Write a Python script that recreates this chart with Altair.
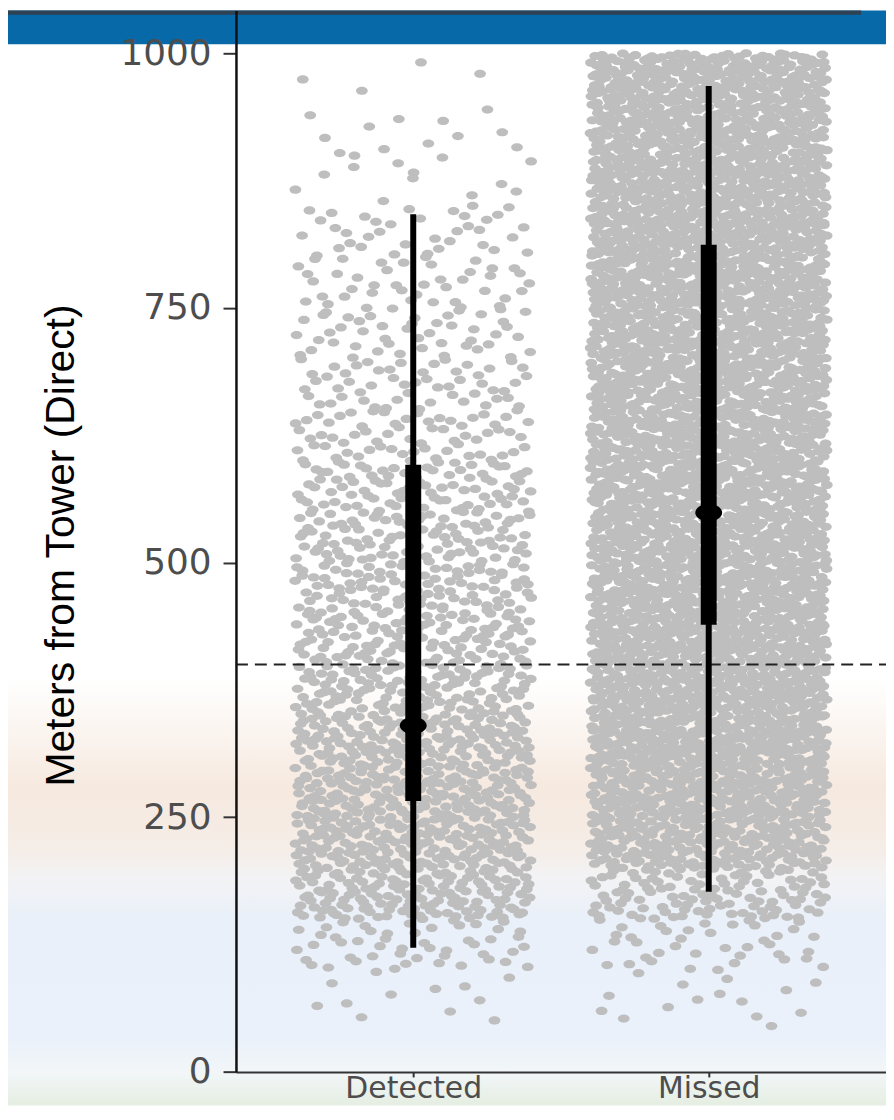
import altair as alt
import pandas as pd

# ---------------- data ----------------
categories = ["Detected", "Missed"]
category_index = [1, 2]

# 50-m bins of "Meters from Tower (Direct)" and the estimated number of
# jittered observations seen in each bin
bin_starts = [0, 50, 100, 150, 200, 250, 300, 350, 400, 450,
              500, 550, 600, 650, 700, 750, 800, 850, 900, 950]
bin_width = 50
detected_counts = [0, 12, 50, 150, 175, 175, 160, 130, 115, 105,
                   100, 90, 65, 55, 48, 42, 36, 14, 12, 4]
missed_counts = [1, 14, 40, 110, 220, 260, 270, 270, 270, 270,
                 270, 270, 270, 270, 270, 270, 270, 270, 270, 270]

# summary intervals (thin = outer interval, thick = inner interval, dot = median)
interval_lo = [122, 177]
interval_q1 = [266, 439]
interval_med = [340, 549]
interval_q3 = [596, 812]
interval_hi = [842, 968]

threshold = [400]
y_ticks = [0, 250, 500, 750, 1000]


# ---------------- tables ----------------
def halton(i, base):
    f, r = 1.0, 0.0
    while i > 0:
        f /= base
        r += f * (i % base)
        i //= base
    return r


# points spread inside each bin with a deterministic low-discrepancy layout (jitter)
rows = []
for ci, cat, counts in zip(category_index, categories, [detected_counts, missed_counts]):
    k = 17 * ci
    for start, n in zip(bin_starts, counts):
        for _ in range(n):
            k += 1
            fx = halton(k, 2)
            fy = halton(k, 3)
            rows.append({"category": cat,
                         "xpos": ci + (fx - 0.5) * 0.8,
                         "meters": start + bin_width * fy})
points_df = pd.DataFrame(rows)

summary_df = pd.DataFrame({
    "category": categories, "xpos": category_index,
    "lo": interval_lo, "q1": interval_q1, "med": interval_med,
    "q3": interval_q3, "hi": interval_hi,
})
thr_df = pd.DataFrame({"t": threshold})
one_df = pd.DataFrame({"k": [0]})

# ---------------- scales / axes ----------------
xs = alt.Scale(domain=[0.4, 2.6], nice=False, zero=False)
ys = alt.Scale(domain=[0, 1042], nice=False, zero=False)

x_axis = alt.Axis(values=category_index,
                  labelExpr="datum.value == 1 ? 'Detected' : 'Missed'",
                  title=None, grid=False, domainColor="#333333", domainWidth=2,
                  tickColor="#333333", tickWidth=2, tickSize=5, labelPadding=21,
                  labelBaseline="alphabetic",
                  labelFont="DejaVu Sans", labelFontSize=30, labelColor="#4d4d4d",
                  zindex=1)
y_axis = alt.Axis(values=y_ticks, format="d", title="Meters from Tower (Direct)", grid=False,
                  domainColor="#111111", domainWidth=2.5, tickColor="#333333",
                  tickWidth=2, tickSize=13, labelPadding=12,
                  labelFont="DejaVu Sans", labelFontSize=36, labelColor="#4d4d4d",
                  titleFont="Liberation Sans", titleFontSize=41,
                  titleFontWeight="normal", titleColor="#000000",
                  titleAngle=270, titleAlign="center", titleBaseline="alphabetic",
                  titleX=-163, titleY=537, zindex=1)

ELLIPSE = "M-1,0A1,0.7,0,1,1,1,0A1,0.7,0,1,1,-1,0Z"
DOT = "M-1,0A1,0.64,0,1,1,1,0A1,0.64,0,1,1,-1,0Z"

# ---------------- decorative slide background ----------------
background = alt.Chart(one_df).mark_rect(
    color={"gradient": "linear", "x1": 0, "x2": 0, "y1": 0, "y2": 1,
           "stops": [
               {"offset": 0.0, "color": "#ffffff"},
               {"offset": 0.61, "color": "#ffffff"},
               {"offset": 0.71, "color": "#f6e9df"},
               {"offset": 0.765, "color": "#f5ede7"},
               {"offset": 0.793, "color": "#f3f3f5"},
               {"offset": 0.83, "color": "#e9f0f9"},
               {"offset": 0.938, "color": "#eaf1fa"},
               {"offset": 0.97, "color": "#f2f6f8"},
               {"offset": 1.0, "color": "#e5eee2"},
           ]}
).encode(x=alt.value(-240), x2=alt.value(660), y=alt.value(0), y2=alt.value(1100))

banner = alt.Chart(one_df).mark_rect(color="#0769a8").encode(
    x=alt.value(-240), x2=alt.value(660), y=alt.value(0), y2=alt.value(34))
banner_edge = alt.Chart(one_df).mark_rect(color="#2e4254").encode(
    x=alt.value(-240), x2=alt.value(628), y=alt.value(0), y2=alt.value(4.3))

# ---------------- data layers ----------------
pts = alt.Chart(points_df).mark_point(
    filled=True, shape=ELLIPSE, size=140, color="#bebebe", opacity=1, strokeWidth=0
).encode(
    x=alt.X("xpos:Q", scale=xs, axis=x_axis),
    y=alt.Y("meters:Q", scale=ys, axis=y_axis),
)

hline = alt.Chart(thr_df).mark_rule(
    color="#222222", strokeWidth=2, strokeDash=[12, 7]
).encode(
    y=alt.Y("t:Q", scale=ys, axis=y_axis),
    x=alt.value(0), x2=alt.value(660),
)

thin = alt.Chart(summary_df).mark_rule(color="#000000", strokeWidth=6).encode(
    x=alt.X("xpos:Q", scale=xs, axis=x_axis),
    y=alt.Y("lo:Q", scale=ys, axis=y_axis), y2="hi:Q",
)
thick = alt.Chart(summary_df).mark_rule(color="#000000", strokeWidth=16).encode(
    x=alt.X("xpos:Q", scale=xs, axis=x_axis),
    y=alt.Y("q1:Q", scale=ys, axis=y_axis), y2="q3:Q",
)
med = alt.Chart(summary_df).mark_point(
    filled=True, shape=DOT, size=729, color="#000000", opacity=1, strokeWidth=0
).encode(
    x=alt.X("xpos:Q", scale=xs, axis=x_axis),
    y=alt.Y("med:Q", scale=ys, axis=y_axis),
)

chart = alt.layer(background, banner, banner_edge, pts, hline, thin, thick, med).properties(
    width=653, height=1066.3,
    padding={"left": 229, "top": 0, "right": 0, "bottom": 34},
    autosize=alt.AutoSizeParams(type="none"),
    background="#ffffff",
).configure_view(stroke=None)

chart.save("out.html", embed_options={"renderer": "svg", "actions": False})
